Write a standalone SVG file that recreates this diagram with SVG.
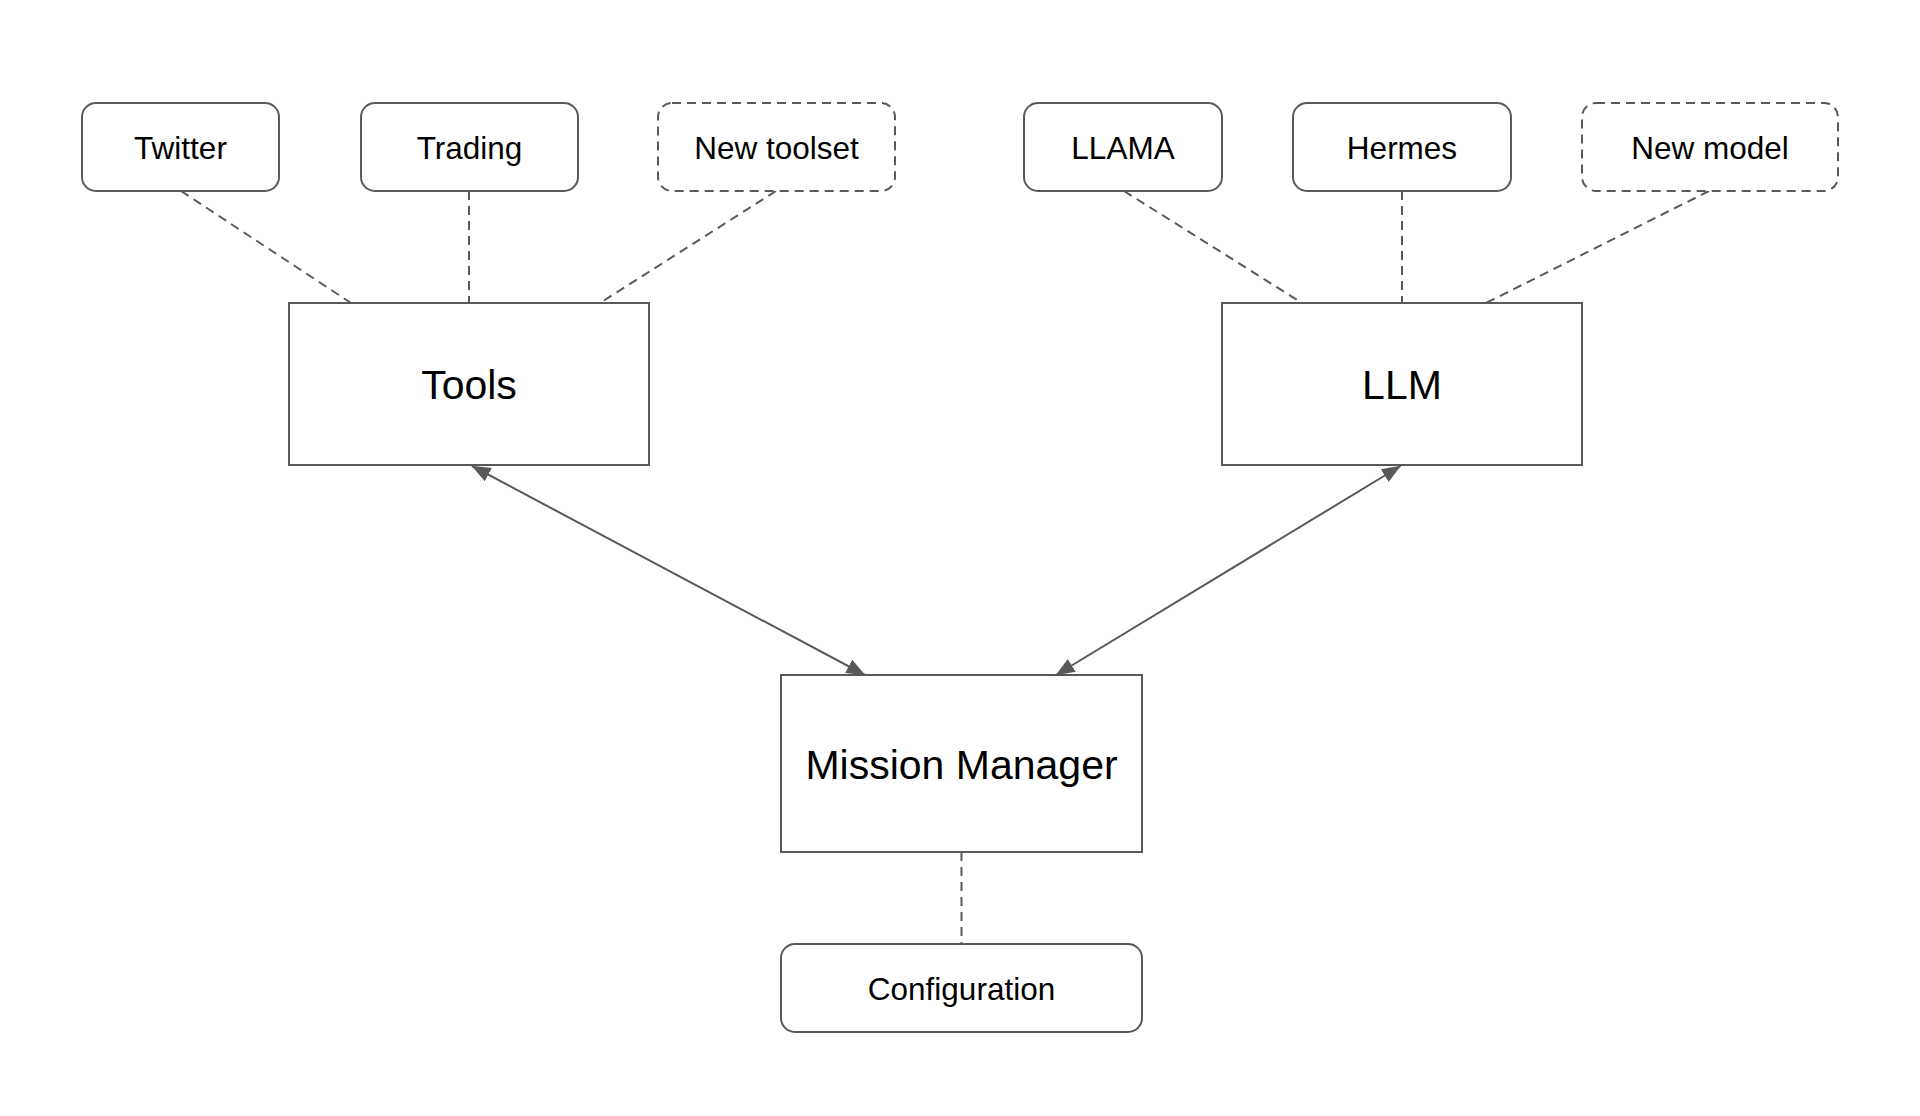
<svg xmlns="http://www.w3.org/2000/svg" width="1920" height="1116" viewBox="0 0 1920 1116">
<defs>
<style>
.box{fill:#ffffff;stroke:#595959;stroke-width:2}
.dbox{fill:#ffffff;stroke:#595959;stroke-width:2;stroke-dasharray:9 6}
.dash{fill:none;stroke:#595959;stroke-width:2;stroke-dasharray:9 6}
.arr{fill:none;stroke:#595959;stroke-width:2;marker-start:url(#ah);marker-end:url(#ah)}
.sm{font-family:"Liberation Sans",Arial,sans-serif;font-size:31.5px;fill:#000;text-anchor:middle}
.lg{font-family:"Liberation Sans",Arial,sans-serif;font-size:41px;fill:#000;text-anchor:middle}
</style>
<marker id="ah" viewBox="0 0 19 15" refX="18.5" refY="7.5" markerWidth="19" markerHeight="15" markerUnits="userSpaceOnUse" orient="auto-start-reverse">
<path d="M0,0 L19,7.5 L0,15 Z" fill="#595959"/>
</marker>
</defs>
<rect width="1920" height="1116" fill="#ffffff"/>
<g id="connectors">
<line class="dash" x1="181" y1="191" x2="351" y2="303"/>
<line class="dash" x1="469" y1="191" x2="469" y2="303"/>
<line class="dash" x1="776" y1="191" x2="600" y2="303"/>
<line class="dash" x1="1124" y1="191" x2="1302" y2="303"/>
<line class="dash" x1="1402" y1="191" x2="1402" y2="303"/>
<line class="dash" x1="1709" y1="191" x2="1486" y2="303"/>
<line class="dash" x1="961.5" y1="852" x2="961.5" y2="944"/>
<line class="arr" x1="472" y1="466" x2="865" y2="675"/>
<line class="arr" x1="1400.5" y1="466" x2="1056" y2="675"/>
</g>
<g id="twitter"><rect class="box" x="82" y="103" width="197" height="88" rx="14"/><text class="sm" x="180.5" y="158.5">Twitter</text></g>
<g id="trading"><rect class="box" x="361" y="103" width="217" height="88" rx="14"/><text class="sm" x="469.5" y="158.5">Trading</text></g>
<g id="new-toolset"><rect class="dbox" x="658" y="103" width="237" height="88" rx="14"/><text class="sm" x="776.5" y="158.5">New toolset</text></g>
<g id="llama"><rect class="box" x="1024" y="103" width="198" height="88" rx="14"/><text class="sm" x="1123" y="158.5">LLAMA</text></g>
<g id="hermes"><rect class="box" x="1293" y="103" width="218" height="88" rx="14"/><text class="sm" x="1402" y="158.5">Hermes</text></g>
<g id="new-model"><rect class="dbox" x="1582" y="103" width="256" height="88" rx="14"/><text class="sm" x="1710" y="158.5">New model</text></g>
<g id="tools"><rect class="box" x="289" y="303" width="360" height="162"/><text class="lg" x="469" y="399">Tools</text></g>
<g id="llm"><rect class="box" x="1222" y="303" width="360" height="162"/><text class="lg" x="1402" y="399">LLM</text></g>
<g id="mission-manager"><rect class="box" x="781" y="675" width="361" height="177"/><text class="lg" x="961.5" y="778.5">Mission Manager</text></g>
<g id="configuration"><rect class="box" x="781" y="944" width="361" height="88" rx="14"/><text class="sm" x="961.5" y="999.5">Configuration</text></g>
</svg>
